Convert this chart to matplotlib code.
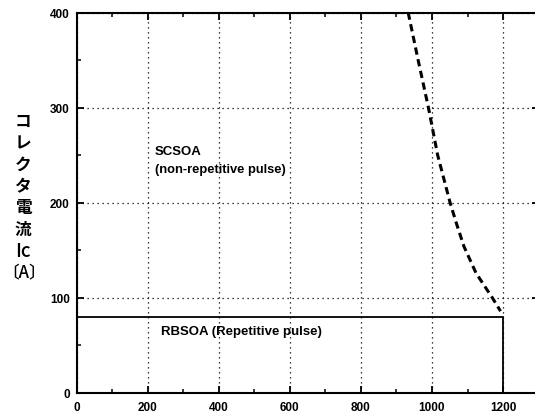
import matplotlib
matplotlib.use("Agg")
import matplotlib.pyplot as plt
from matplotlib.ticker import MultipleLocator

# Data
scsoa_v = [933, 961, 990, 1016, 1051, 1069, 1090, 1124, 1170, 1193]
scsoa_i = [400, 350, 300, 250, 200, 178, 154, 126, 100, 86]
rbsoa_v = [0, 1200, 1200]
rbsoa_i = [80, 80, 0]
x_ticks = [0, 200, 400, 600, 800, 1000, 1200]
y_ticks = [0, 100, 200, 300, 400]
ylabel_lines = ["コ", "レ", "ク", "タ", "電", "流", "Ic", "〔A〕"]

W, H = 535, 414
fig = plt.figure(figsize=(W / 100, H / 100), dpi=100)
x0, x1 = 76.6, 538.6
y0, y1 = 394, 13.5
ax = fig.add_axes([x0 / W, (H - y0) / H, (x1 - x0) / W, (y0 - y1) / H])

ax.set_xlim(0, 1300)
ax.set_ylim(0, 400)

ax.plot(rbsoa_v, rbsoa_i, color="black", lw=1.3, solid_joinstyle="miter")
ax.plot(scsoa_v, scsoa_i, color="black", lw=2.2, linestyle=(0, (2.4, 1.5)))

ax.set_xticks(x_ticks)
ax.set_yticks(y_ticks)
ax.xaxis.set_minor_locator(MultipleLocator(100))
ax.yaxis.set_minor_locator(MultipleLocator(50))
ax.tick_params(which="both", direction="in", top=True, right=True, color="black")
ax.tick_params(which="major", length=5, width=1.3, labelsize=8.5)
ax.tick_params(axis="x", which="major", pad=5.5)
ax.tick_params(axis="y", which="major", pad=5)
ax.tick_params(which="minor", length=3, width=1.1)
for lab in ax.get_xticklabels() + ax.get_yticklabels():
    lab.set_fontweight("bold")
    lab.set_family("Liberation Sans")

ax.grid(True, which="major", color="black", linestyle=(0, (1, 3)), lw=0.9)
for s in ax.spines.values():
    s.set_linewidth(1.5)

ax.text(221, 254.5, "SCSOA", fontsize=9.5, fontweight="bold",
        family="Liberation Sans", va="center", ha="left")
ax.text(221, 235.5, "(non-repetitive pulse)", fontsize=9.3, fontweight="bold",
        family="Liberation Sans", va="center", ha="left")
ax.text(238, 65, "RBSOA (Repetitive pulse)", fontsize=9.5, fontweight="bold",
        family="Liberation Sans", va="center", ha="left")

fam = ["Noto Sans CJK JP", "DejaVu Sans"]
ycs = 121.7
for i, t in enumerate(ylabel_lines):
    if t == "Ic":
        fs, fw, xc = 13.5, "medium", 23
    elif t == "〔A〕":
        fs, fw, xc = 12, "medium", 24.5
    else:
        fs, fw, xc = 12, "bold", 23
    fig.text(xc / W, 1 - (ycs + i * 21.7) / H, t, fontsize=fs, fontweight=fw,
             family=fam, ha="center", va="center")

fig.savefig("out.png", dpi=100)
